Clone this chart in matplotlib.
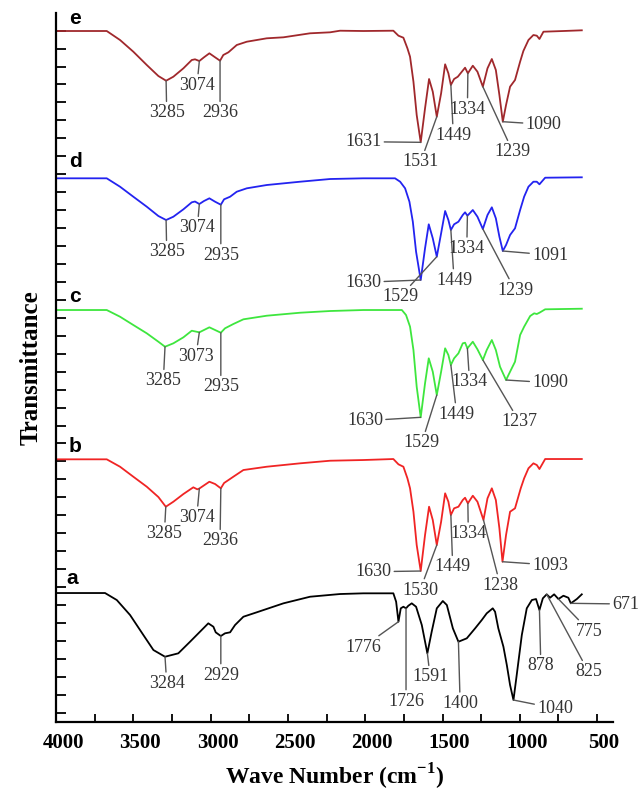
import numpy as np
import matplotlib
matplotlib.use("Agg")
import matplotlib.pyplot as plt
from matplotlib.ticker import MultipleLocator
from matplotlib.transforms import ScaledTranslation

# --- spectra (wave number, transmittance in arbitrary units) ---
wn_a = [4000, 3683, 3607, 3521, 3435, 3370, 3295, 3209, 3133, 3047, 3015, 2982, 2967, 2934,
        2907, 2874, 2842, 2788, 2702, 2529, 2357, 2163, 2012, 1818, 1800, 1785, 1770, 1753,
        1736, 1721, 1699, 1671, 1634, 1598, 1570, 1537, 1498, 1472, 1433, 1397, 1343, 1289,
        1246, 1214, 1175, 1160, 1139, 1106, 1084, 1063, 1041, 1020, 987, 955, 922, 895, 873,
        851, 826, 804, 778, 750, 718, 686, 670, 631, 599]
t_a = [129, 129, 122, 107, 87, 72, 65.3, 68.7, 80.3, 93.7, 98.7, 95.3, 89.7, 86,
       88.7, 89.7, 97, 105.3, 109.7, 118.7, 125.3, 128, 128.7, 128.7, 120.3, 100.3, 113.7, 115.3,
       113.7, 116.3, 118.7, 115.3, 97, 68.7, 90.3, 113.7, 121, 117, 93.7, 80.3, 83.7, 93.7,
       102, 108.7, 113.7, 110.3, 93.7, 75.3, 57, 37, 22, 47, 87, 113.7, 122, 123, 112,
       123.7, 127.7, 124.3, 127.7, 123, 126.3, 124.3, 118.7, 123, 127.7]

wn_b = [4000, 3672, 3586, 3500, 3413, 3338, 3290, 3241, 3176, 3112, 3086, 3073, 3008, 2971,
        2934, 2913, 2853, 2788, 2637, 2421, 2227, 2012, 1818, 1785, 1753, 1727, 1710, 1688,
        1667, 1641, 1613, 1587, 1563, 1537, 1509, 1483, 1462, 1446, 1425, 1397, 1369, 1354,
        1336, 1304, 1274, 1235, 1209, 1181, 1155, 1132, 1112, 1089, 1063, 1031, 994, 972,
        944, 912, 890, 873, 836, 599]
t_b = [262.7, 262.7, 255.3, 245.3, 235.3, 225, 215.3, 220.3, 228, 234.7, 232.7, 233.5, 240.3, 238,
       233.7, 239, 245.3, 252, 255.3, 258.7, 261.3, 262, 263, 257.7, 255.3, 243.7, 233.7, 210.3,
       177, 151, 187, 215.3, 202, 177, 200.3, 228.7, 220.3, 207, 213.7, 215.3, 222, 224.3,
       218.7, 226.3, 220.3, 202, 223.7, 233.7, 222, 193.7, 160.3, 187, 210.3, 213.7, 233.7, 243.7,
       253.7, 258.7, 257, 253, 263, 263]

wn_c = [4000, 3672, 3586, 3500, 3413, 3338, 3295, 3241, 3176, 3122, 3073, 3008, 2971, 2934,
        2907, 2853, 2788, 2637, 2421, 2227, 2012, 1763, 1736, 1710, 1688, 1667, 1641, 1613,
        1589, 1563, 1537, 1509, 1483, 1462, 1446, 1425, 1397, 1369, 1354, 1339, 1304, 1274,
        1239, 1214, 1181, 1155, 1128, 1089, 1063, 1031, 998, 972, 933, 907, 890, 873, 836, 599]
t_c = [412, 412, 405.3, 397, 388.7, 380.3, 375.3, 378.7, 384.7, 391.3, 389.7, 394.7, 392, 389.3,
       393.7, 398, 402.7, 406.3, 409.3, 411, 412, 412, 407, 395.3, 372, 335.3, 304.7, 338.7,
       363.7, 350.3, 327, 350.3, 373.7, 367, 357, 363.7, 368.7, 378.7, 379.3, 373.7, 380.3, 372.7,
       362, 372, 382, 372, 355.3, 342, 350.3, 360.3, 387, 395.3, 406, 408.7, 408, 409.3, 412.7, 413.3]

wn_d = [4000, 3672, 3586, 3500, 3413, 3338, 3288, 3241, 3176, 3122, 3101, 3073, 3043, 3008,
        2971, 2934, 2913, 2874, 2831, 2766, 2637, 2421, 2227, 2012, 1807, 1774, 1742, 1714,
        1692, 1671, 1641, 1613, 1589, 1563, 1537, 1509, 1483, 1462, 1446, 1425, 1397, 1369,
        1354, 1339, 1304, 1274, 1239, 1209, 1181, 1155, 1132, 1110, 1089, 1063, 1031, 998,
        972, 944, 912, 890, 873, 836, 599]
t_d = [543.7, 543.7, 535.3, 525.3, 515.3, 506, 502, 505.3, 512.7, 519.7, 520.5, 518, 521, 523.7,
       520.3, 517.3, 522.7, 525.3, 530.3, 533.7, 537, 540.3, 543, 543.7, 543.7, 540.3, 533.7, 520.3,
       500.3, 470.3, 442, 473.7, 497.7, 483.7, 465.3, 488.7, 511, 502, 492, 497.7, 500.3, 507,
       509.7, 506.3, 512, 505.3, 493, 507, 514.7, 503.7, 485.3, 471, 477, 487, 493.7, 512,
       525.3, 535.3, 540.3, 540.3, 537.7, 544.3, 544.7]

wn_e = [4000, 3672, 3586, 3500, 3413, 3338, 3288, 3241, 3176, 3122, 3101, 3073, 3043, 3008,
        2971, 2939, 2918, 2885, 2831, 2766, 2637, 2529, 2357, 2227, 2163, 2012, 1818, 1785,
        1753, 1727, 1710, 1688, 1667, 1641, 1613, 1587, 1563, 1537, 1509, 1483, 1462, 1446,
        1425, 1401, 1375, 1354, 1336, 1304, 1274, 1239, 1209, 1181, 1155, 1132, 1110, 1089,
        1063, 1031, 998, 977, 944, 912, 890, 873, 847, 718, 599]
t_e = [691, 691, 682, 670.3, 657, 646, 641.3, 645.3, 653.7, 662, 662.7, 661, 664.7, 668.7,
       664.7, 661.3, 667, 669.7, 677, 680.3, 683.7, 684.7, 688.7, 689.7, 691.3, 691, 691.3, 686.3,
       684.3, 673.7, 665.3, 640.3, 607, 579.7, 613.7, 643, 630.3, 605.3, 628.7, 657.7, 648.7, 637,
       643, 645.3, 650.3, 654.3, 648.7, 656.3, 650.3, 635.3, 653.7, 663, 652, 627, 600.3, 617,
       635.3, 642, 660.3, 671, 682, 687, 686.3, 683, 690.3, 691, 691.7]

# peak labels: (text, peak wn, peak T, label wn, label T, ha)
peaks_a = [("3284", 3295, 65.3, 3284, 38.7, "center"),
           ("2929", 2934, 86, 2934, 47, "center"),
           ("1776", 1785, 100.3, 2014, 75, "center"),
           ("1726", 1736, 113.7, 1736, 21, "center"),
           ("1591", 1598, 68.7, 1580, 45.3, "center"),
           ("1400", 1397, 80.3, 1386, 18.7, "center"),
           ("1040", 1041, 22, 772, 13.7, "center"),
           ("878", 873, 112, 864, 56.3, "center"),
           ("825", 826, 127.7, 556, 50.3, "center"),
           ("775", 750, 123, 550, 91, "center"),
           ("671", 670, 118.7, 403, 118, "left")]
peaks_b = [("3285", 3290, 215.3, 3299, 188.7, "center"),
           ("3074", 3073, 233.5, 3090, 204.7, "center"),
           ("2936", 2934, 233.7, 2939, 181.3, "center"),
           ("1630", 1641, 151, 1947, 150.3, "center"),
           ("1530", 1537, 177, 1645, 132, "center"),
           ("1449", 1446, 207, 1434, 155.3, "center"),
           ("1334", 1336, 218.7, 1333, 188.7, "center"),
           ("1238", 1235, 202, 1127, 137, "center"),
           ("1093", 1112, 160.3, 804, 157, "center")]
peaks_c = [("3285", 3295, 375.3, 3306, 341.3, "center"),
           ("3073", 3073, 389.7, 3095, 366, "center"),
           ("2935", 2934, 389.3, 2934, 335.3, "center"),
           ("1630", 1641, 304.7, 2001, 301.3, "center"),
           ("1529", 1537, 327, 1634, 279.3, "center"),
           ("1449", 1446, 357, 1408, 308, "center"),
           ("1334", 1339, 373.7, 1325, 340.3, "center"),
           ("1237", 1239, 362, 1003, 300.3, "center"),
           ("1090", 1089, 342, 804, 339.3, "center")]
peaks_d = [("3285", 3288, 502, 3284, 470.3, "center"),
           ("3074", 3073, 518, 3086, 494.3, "center"),
           ("2935", 2934, 517.3, 2934, 467, "center"),
           ("1630", 1641, 442, 2012, 439.7, "center"),
           ("1529", 1537, 465.3, 1774, 425.3, "center"),
           ("1449", 1446, 492, 1425, 442, "center"),
           ("1334", 1339, 506.3, 1343, 473.7, "center"),
           ("1239", 1239, 493, 1031, 432, "center"),
           ("1091", 1110, 471, 804, 467, "center")]
peaks_e = [("3285", 3288, 641.3, 3284, 609.3, "center"),
           ("3074", 3073, 661, 3088, 637, "center"),
           ("2936", 2939, 661.3, 2939, 609.3, "center"),
           ("1631", 1641, 579.7, 2012, 580.3, "center"),
           ("1531", 1537, 605.3, 1641, 560.3, "center"),
           ("1449", 1446, 637, 1430, 587, "center"),
           ("1334", 1336, 648.7, 1339, 613, "center"),
           ("1239", 1239, 635.3, 1045, 570.3, "center"),
           ("1090", 1110, 600.3, 847, 597.7, "center")]

letters = ["a", "b", "c", "d", "e"]
letter_t = [143.7, 275.3, 425.3, 561, 704]
colors = ["black", "#f02424", "#3ee63e", "#2323f0", "#a0282c"]

serif = "Liberation Serif"
plt.rcParams["mathtext.fontset"] = "custom"
plt.rcParams["mathtext.bf"] = "Liberation Serif:bold"
plt.rcParams["mathtext.rm"] = "Liberation Serif:bold"

fig = plt.figure(figsize=(6.44, 7.98), dpi=100)
ax = fig.add_axes([0.0870, 0.0952, 0.8649, 0.8885])

spectra = [(wn_a, t_a), (wn_b, t_b), (wn_c, t_c), (wn_d, t_d), (wn_e, t_e)]
for (w, t), c in zip(spectra, colors):
    ax.plot(w, t, color=c, lw=1.3)

for pk in [peaks_a, peaks_b, peaks_c, peaks_d, peaks_e]:
    for txt, pw, pt, tw, tt, ha in pk:
        ax.annotate(txt, xy=(pw, pt), xytext=(tw, tt), ha=ha, va="center",
                    fontsize=13, family=serif, color="#333333",
                    arrowprops=dict(arrowstyle="-", color="#555555", lw=1.0,
                                    shrinkA=0, shrinkB=0),
                    annotation_clip=False)

for lab, y in zip(letters, letter_t):
    ax.text(3877 if lab != "a" else 3898, y, lab, ha="center", va="center",
            fontsize=15, fontweight="bold", family="Liberation Sans", clip_on=False)

ax.set_xlim(4000, 397)
ax.set_ylim(0, 709)
ax.xaxis.set_major_locator(MultipleLocator(500))
ax.xaxis.set_minor_locator(MultipleLocator(250))
ax.set_yticks(np.arange(9.3, 700, 17.95))

for s in ["top", "right"]:
    ax.spines[s].set_visible(False)
for s in ["left", "bottom"]:
    ax.spines[s].set_linewidth(1.6)

ax.tick_params(axis="x", which="both", direction="in", length=6, width=1.3,
               pad=8, labelsize=15)
ax.tick_params(axis="y", direction="in", length=7, width=1.3, labelleft=False)

offset = ScaledTranslation(7 / 100, 0, fig.dpi_scale_trans)
for lbl in ax.get_xticklabels():
    lbl.set_fontfamily(serif)
    lbl.set_fontweight("bold")
    lbl.set_transform(lbl.get_transform() + offset)

ax.set_xlabel(r"Wave Number (cm$^{\mathbf{-1}}$)", fontsize=17, fontweight="bold",
              family=serif, labelpad=6)
ax.set_ylabel("Transmittance", fontsize=18, fontweight="bold", family=serif,
              labelpad=10)

fig.savefig("out.png", dpi=100)
